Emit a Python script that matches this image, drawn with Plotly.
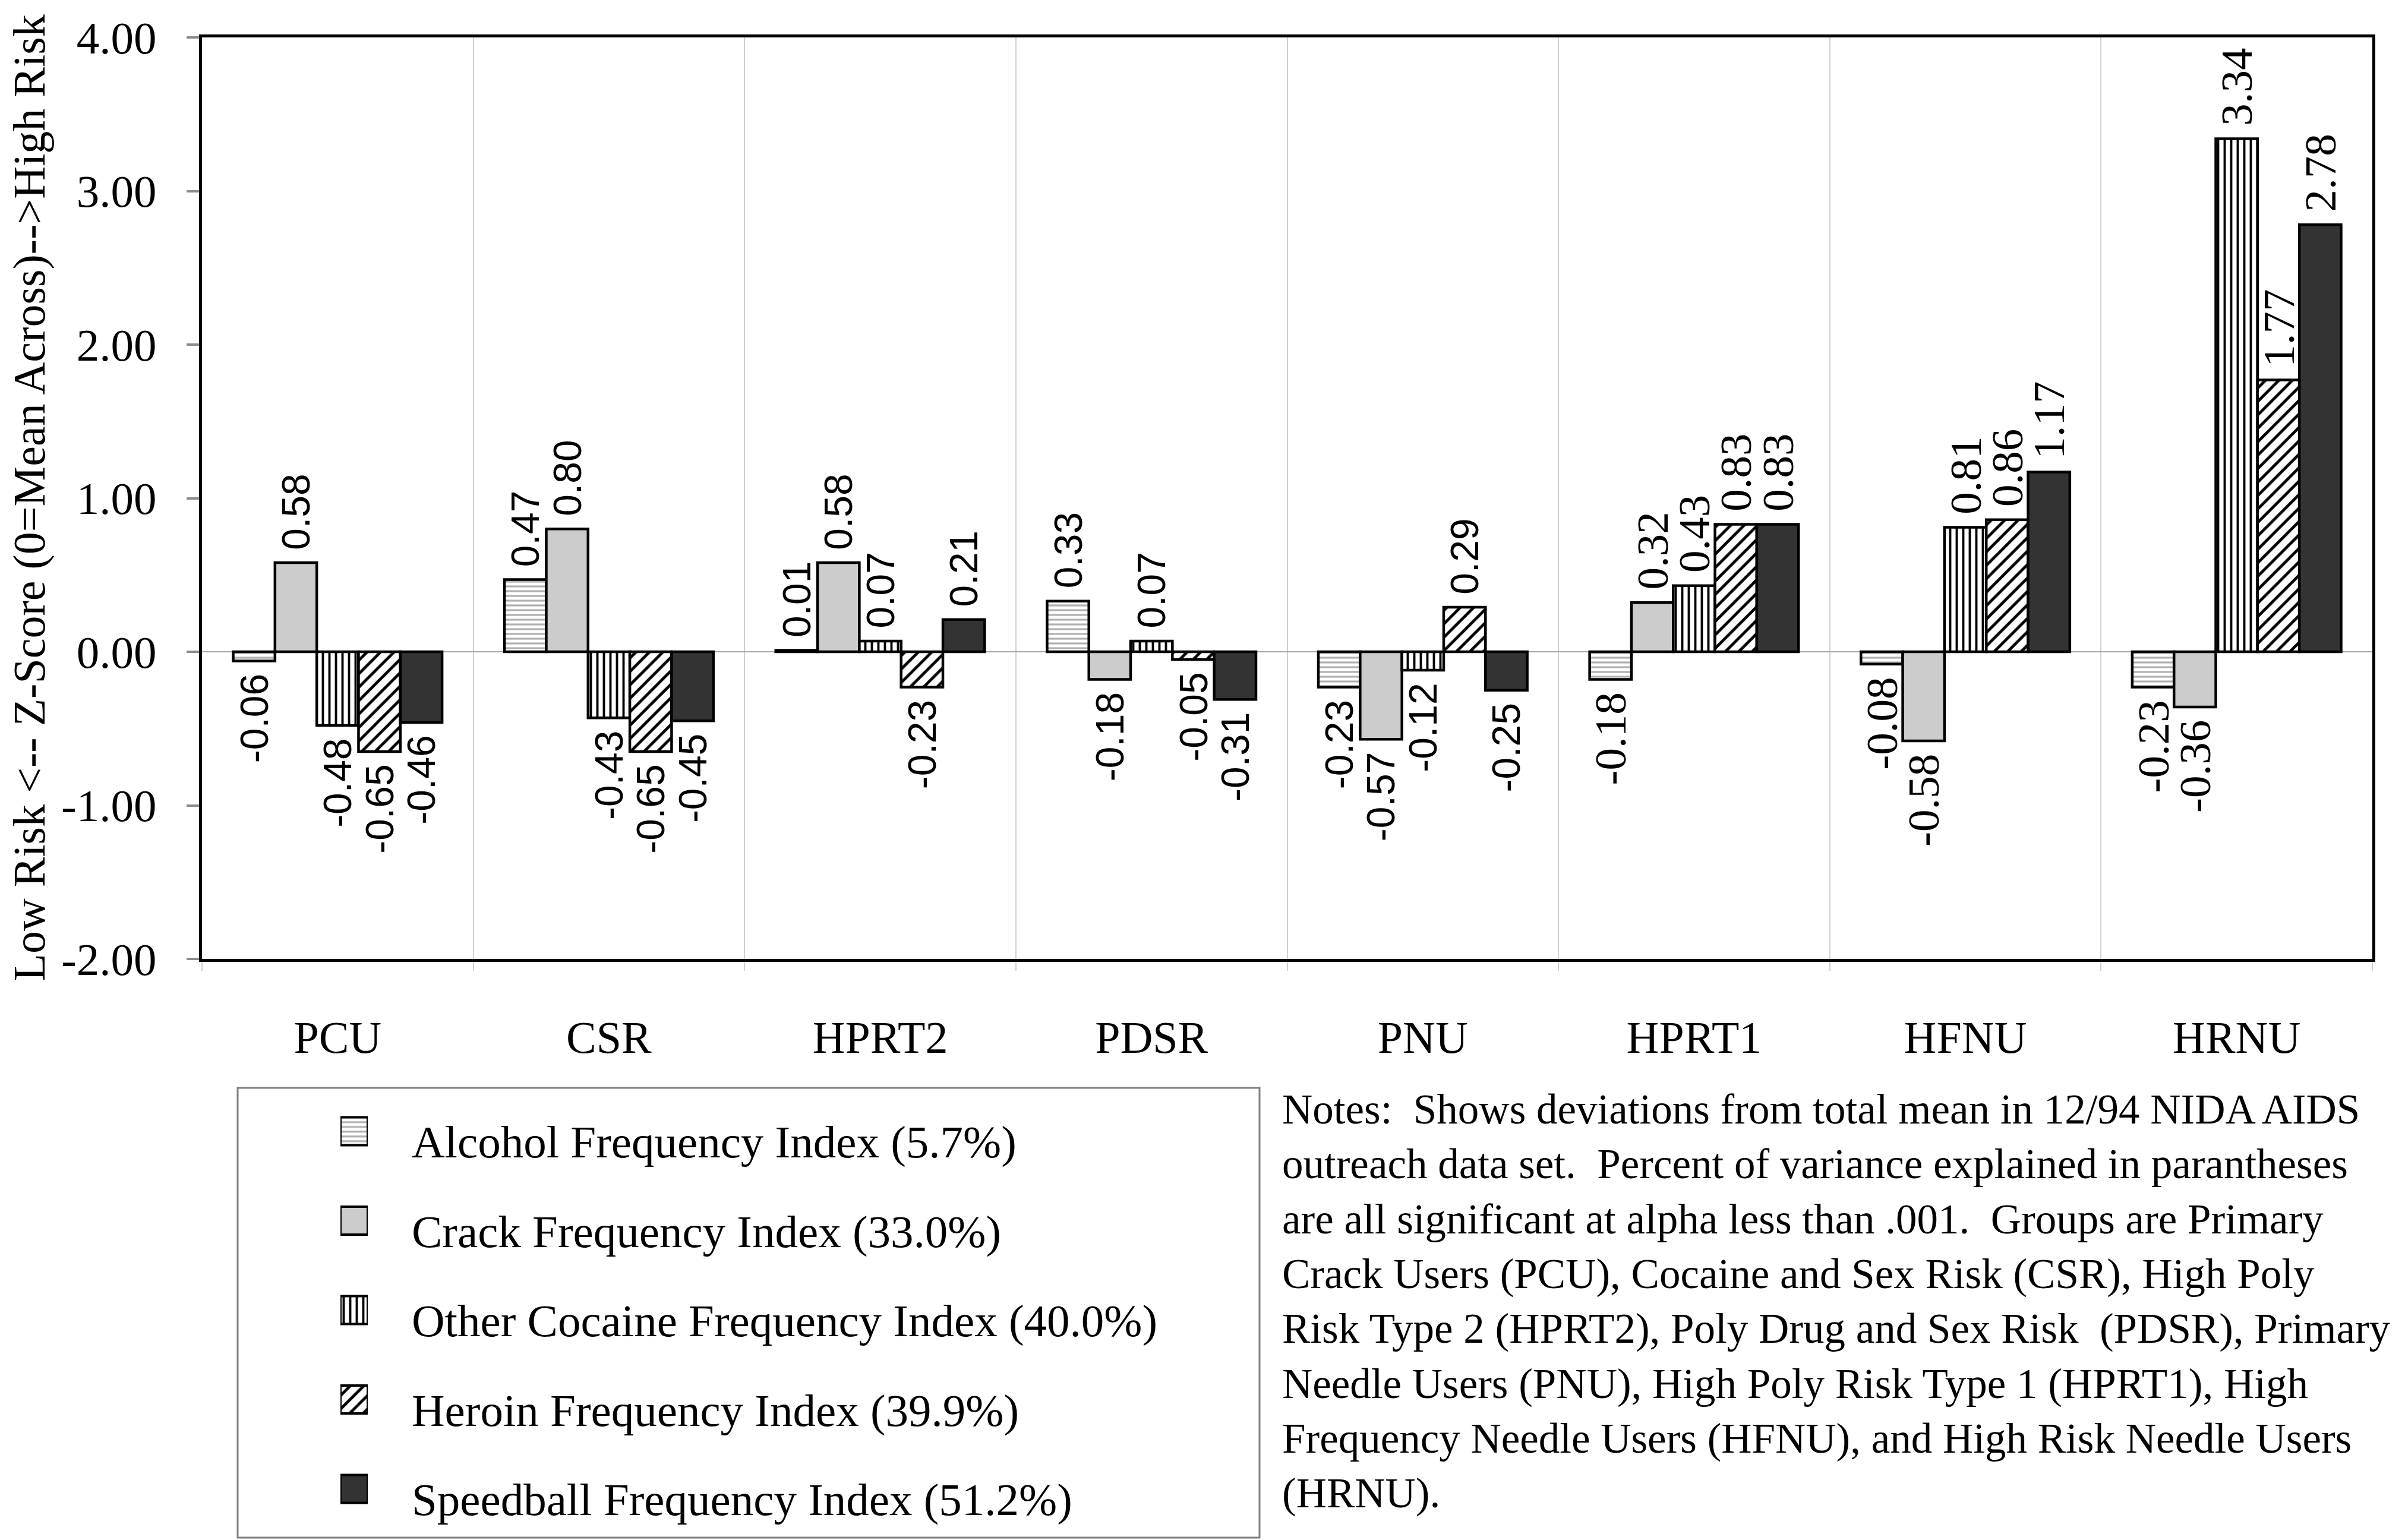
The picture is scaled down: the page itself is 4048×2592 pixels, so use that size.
import plotly.graph_objects as go

# ---------------- data ----------------
categories = ["PCU", "CSR", "HPRT2", "PDSR", "PNU", "HPRT1", "HFNU", "HRNU"]
series_names = [
    "Alcohol Frequency Index (5.7%)",
    "Crack Frequency Index (33.0%)",
    "Other Cocaine Frequency Index (40.0%)",
    "Heroin Frequency Index (39.9%)",
    "Speedball Frequency Index (51.2%)",
]
alcohol = [-0.06, 0.47, 0.01, 0.33, -0.23, -0.18, -0.08, -0.23]
crack = [0.58, 0.80, 0.58, -0.18, -0.57, 0.32, -0.58, -0.36]
other_cocaine = [-0.48, -0.43, 0.07, 0.07, -0.12, 0.43, 0.81, 3.34]
heroin = [-0.65, -0.65, -0.23, -0.05, 0.29, 0.83, 0.86, 1.77]
speedball = [-0.46, -0.45, 0.21, -0.31, -0.25, 0.83, 1.17, 2.78]
y_tick_values = [-2, -1, 0, 1, 2, 3, 4]
y_tick_labels = [f"{v:.2f}" for v in y_tick_values]
y_title = "Low Risk &lt;-- Z-Score (0=Mean Across)--&gt;High Risk"
notes_lines = [
    "Notes:\u00a0 Shows deviations from total mean in 12/94 NIDA AIDS",
    "outreach data set.\u00a0 Percent of variance explained in parantheses",
    "are all significant at alpha less than .001.\u00a0 Groups are Primary",
    "Crack Users (PCU), Cocaine and Sex Risk (CSR), High Poly",
    "Risk Type 2 (HPRT2), Poly Drug and Sex Risk \u00a0(PDSR), Primary",
    "Needle Users (PNU), High Poly Risk Type 1 (HPRT1), High",
    "Frequency Needle Users (HFNU), and High Risk Needle Users",
    "(HRNU).",
]

series_values = [alcohol, crack, other_cocaine, heroin, speedball]

# ---------------- styling ----------------
W, H = 4048, 2592
SERIF = "Liberation Serif, Times New Roman, serif"
SANS = "Liberation Sans, Arial, sans-serif"

styles = [
    dict(color="white", pattern=dict(shape="-", fgcolor="#b0b0b0", bgcolor="white", size=8, solidity=0.4)),
    dict(color="#cccccc"),
    dict(color="white", pattern=dict(shape="|", fgcolor="black", bgcolor="white", size=11, solidity=0.35)),
    dict(color="white", pattern=dict(shape="/", fgcolor="black", bgcolor="white", size=16, solidity=0.3)),
    dict(color="#333333"),
]

# label font: first five groups sans, last three serif (as in the original)
label_family = [SANS] * 5 + [SERIF] * 3
label_size = [66] * 5 + [75] * 3

fig = go.Figure()

for name, vals, st in zip(series_names, series_values, styles):
    texts = [("\u00a0" + f"{v:.2f}") if v >= 0 else (f"{v:.2f}" + "\u00a0") for v in vals]
    fig.add_trace(go.Bar(
        x=categories, y=vals, name=name,
        marker=dict(line=dict(color="black", width=4.5), **st),
        text=texts, textposition="outside", textangle=-90,
        textfont=dict(family=label_family, size=label_size, color="black"),
        constraintext="none", cliponaxis=False, showlegend=False,
        xaxis="x", yaxis="y",
    ))

# legend swatches drawn as a tiny bar chart on their own axes
row_h = 150.5
sw_w = 47 / row_h
for name, st in zip(series_names, styles):
    fig.add_trace(go.Bar(
        x=[1], y=[name], orientation="h",
        marker=dict(line=dict(color="black", width=4), **st),
        width=sw_w, offset=-sw_w / 2,
        showlegend=False, xaxis="x2", yaxis="y2", hoverinfo="skip",
    ))

x_dom = [340 / W, 3993 / W]
y_dom = [1 - 1614 / H, 1 - 63 / H]
sw_top = 1904 - row_h / 2
sw_bot = sw_top + 5 * row_h

annotations = []
for name in series_names:
    annotations.append(dict(
        text=name, xref="paper", x=691 / W, xanchor="left",
        yref="y2", y=name, yanchor="middle", yshift=-18,
        showarrow=False, font=dict(family=SERIF, size=77, color="black"),
    ))
annotations.append(dict(
    text="<br>".join(notes_lines), xref="paper", yref="paper",
    x=2156 / W, y=1 - 2190 / H, xanchor="left", yanchor="middle", align="left",
    showarrow=False, font=dict(family=SERIF, size=71, color="black"),
))
annotations.append(dict(
    text=y_title, xref="paper", yref="paper",
    x=49 / W, y=(y_dom[0] + y_dom[1]) / 2, xanchor="center", yanchor="middle",
    textangle=-90, showarrow=False, font=dict(family=SERIF, size=76, color="black"),
))

fig.update_layout(
    template="none",
    width=W, height=H,
    margin=dict(l=0, r=0, t=0, b=0),
    paper_bgcolor="white", plot_bgcolor="white",
    barmode="group", bargap=0.23, bargroupgap=0,
    showlegend=False,
    font=dict(family=SERIF, color="black"),
    xaxis=dict(
        domain=x_dom, type="category", categoryorder="array", categoryarray=categories,
        tickson="boundaries", showgrid=True, gridcolor="#d0d0d0", gridwidth=2,
        ticks="outside", ticklen=15, tickwidth=2, tickcolor="#d0d0d0",
        ticklabelstandoff=62,
        tickfont=dict(family=SERIF, size=76, color="black"),
        showline=True, linecolor="black", linewidth=5, mirror=True,
        zeroline=False, automargin=False, fixedrange=True,
    ),
    yaxis=dict(
        domain=y_dom, range=[-2, 4], tickvals=y_tick_values, ticktext=y_tick_labels,
        ticks="outside", ticklen=21, tickwidth=4, tickcolor="#8c8c8c",
        ticklabelstandoff=35,
        tickfont=dict(family=SERIF, size=77, color="black"),
        showline=True, linecolor="black", linewidth=5, mirror=True,
        showgrid=False, zeroline=True, zerolinecolor="#a8a8a8", zerolinewidth=2,
        automargin=False, fixedrange=True,
    ),
    xaxis2=dict(domain=[573 / W, 619 / W], range=[0, 1], visible=False,
                anchor="y2", fixedrange=True),
    yaxis2=dict(domain=[1 - sw_bot / H, 1 - sw_top / H], type="category", categoryorder="array",
                categoryarray=series_names, autorange="reversed", visible=False,
                anchor="x2", fixedrange=True),
    annotations=annotations,
    shapes=[dict(type="rect", xref="paper", yref="paper",
                 x0=400 / W, x1=2120 / W, y0=1 - 2588 / H, y1=1 - 1831 / H,
                 line=dict(color="#7f7f7f", width=3), fillcolor="rgba(0,0,0,0)",
                 layer="below")],
)

fig.write_html("out.html", config={"displayModeBar": False},
               post_script="document.body.style.margin='0';")
